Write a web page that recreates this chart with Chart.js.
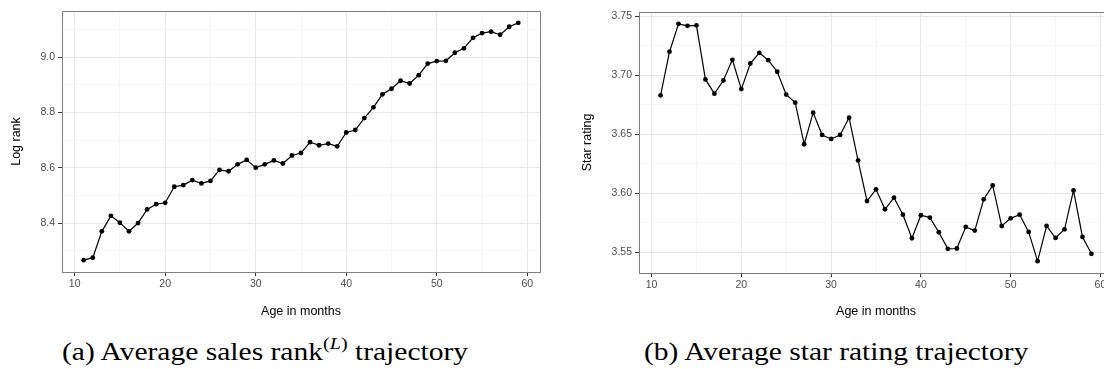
<!DOCTYPE html>
<html>
<head>
<meta charset="utf-8">
<script src="https://cdn.jsdelivr.net/npm/chart.js@4"></script>
<style>
html,body{margin:0;padding:0;width:1104px;height:369px;overflow:hidden;background:#fff;}
body{position:relative;}
#c1{position:absolute;left:0;top:0;}
#c2{position:absolute;left:545px;top:0;}
.cap{position:absolute;top:339px;font-family:"Liberation Serif",serif;font-size:25px;line-height:25px;white-space:nowrap;transform-origin:0 0;color:#000;}
.sup{font-size:0.68em;position:relative;top:-0.62em;}
</style>
</head>
<body>
<canvas id="c1" width="545" height="330"></canvas>
<canvas id="c2" width="575" height="330"></canvas>
<div class="cap" id="capA" style="left:62px;"><span id="capAm">(a) Average sales rank</span><span class="sup">(<i>L</i>)</span> trajectory</div>
<div class="cap" id="capB" style="left:644px;"><span id="capBm">(b) Average star rating</span> trajectory</div>
<script>
// ---- data ----
const months = [11,12,13,14,15,16,17,18,19,20,21,22,23,24,25,26,27,28,29,30,31,32,33,34,35,36,37,38,39,40,41,42,43,44,45,46,47,48,49,50,51,52,53,54,55,56,57,58,59];
const logRank = [8.267,8.276,8.371,8.427,8.402,8.371,8.401,8.450,8.469,8.474,8.532,8.538,8.556,8.544,8.553,8.593,8.588,8.613,8.629,8.601,8.613,8.627,8.616,8.645,8.654,8.693,8.682,8.688,8.678,8.728,8.737,8.780,8.819,8.866,8.886,8.915,8.905,8.935,8.977,8.986,8.987,9.016,9.032,9.070,9.087,9.092,9.081,9.110,9.124];
const starRating = [3.683,3.720,3.7436,3.7419,3.7424,3.6965,3.6844,3.6956,3.7131,3.6883,3.710,3.719,3.7128,3.703,3.6836,3.6768,3.6415,3.6683,3.6494,3.646,3.6494,3.664,3.6278,3.5934,3.6033,3.5864,3.5962,3.5818,3.5618,3.5813,3.5793,3.5669,3.5528,3.5531,3.5714,3.5683,3.5948,3.6066,3.5722,3.5787,3.5818,3.5672,3.5424,3.5722,3.5621,3.5694,3.6024,3.5629,3.5486];
const xMajorTicks = [10,20,30,40,50,60];
const xMinorTicks = [15,25,35,45,55];
const leftYMajorTicks = [8.4,8.6,8.8,9.0];
const leftYMinorTicks = [8.3,8.5,8.7,8.9,9.1];
const rightYMajorTicks = [3.55,3.60,3.65,3.70,3.75];
const rightYMinorTicks = [3.575,3.625,3.675,3.725];
const xTitle = "Age in months";
const leftYTitle = "Log rank";
const rightYTitle = "Star rating";

// ---- helpers ----
function expand(vals){ const mn=Math.min(...vals), mx=Math.max(...vals), d=(mx-mn)*0.05; return [mn-d,mx+d]; }
function isIn(arr,v){ return arr.some(a=>Math.abs(a-v)<1e-9); }
const tickFont = {family:"'Liberation Sans', Arial, sans-serif", size:10.5};
const titleFont = {family:"'Liberation Sans', Arial, sans-serif", size:12.5};

const borderPlugin = {
  id:'panelBorder',
  afterDraw(chart){
    const {ctx, chartArea:a} = chart;
    ctx.save();
    ctx.strokeStyle = '#7f7f7f';
    ctx.lineWidth = 1;
    ctx.strokeRect(Math.round(a.left)+0.5, Math.round(a.top)+0.5, Math.round(a.right-a.left), Math.round(a.bottom-a.top));
    ctx.restore();
  }
};

function makeChart(id, yVals, yMajor, yMinor, yDigits, yTitle, opts){
  const [xmin,xmax] = expand(months);
  const [ymin,ymax] = expand(yVals);
  const xAll = [...xMajorTicks, ...xMinorTicks].sort((a,b)=>a-b);
  const yAll = [...yMajor, ...yMinor].sort((a,b)=>a-b);
  return new Chart(document.getElementById(id), {
    type:'line',
    data:{ datasets:[{
      data: months.map((m,i)=>({x:m, y:yVals[i]})),
      borderColor:'#000', borderWidth:1.2,
      pointRadius:2.4, pointBackgroundColor:'#000', pointBorderWidth:0,
      tension:0
    }]},
    options:{
      responsive:false, animation:false,
      layout:{padding:opts.padding},
      plugins:{legend:{display:false}, tooltip:{enabled:false}},
      scales:{
        x:{
          type:'linear', min:xmin, max:xmax,
          afterBuildTicks(s){ s.ticks = xAll.map(v=>({value:v})); },
          afterFit(s){ s.height = opts.xHeight; },
          ticks:{ autoSkip:false, maxRotation:0, color:'#4d4d4d', font:tickFont, padding:2,
            callback:(v)=> isIn(xMajorTicks,v) ? String(v) : '' },
          grid:{ color:(c)=> isIn(xMajorTicks,c.tick.value) ? '#e8e8e8' : '#f5f5f5',
                 tickColor:(c)=> isIn(xMajorTicks,c.tick.value) ? '#333' : 'rgba(0,0,0,0)',
                 tickLength:4, lineWidth:1 },
          border:{display:false},
          title:{display:true, text:xTitle, color:'#000', font:titleFont, padding:{top:0,bottom:11}}
        },
        y:{
          type:'linear', min:ymin, max:ymax,
          afterBuildTicks(s){ s.ticks = yAll.map(v=>({value:v})); },
          afterFit(s){ s.width = opts.yWidth; },
          ticks:{ autoSkip:false, color:'#4d4d4d', font:tickFont, padding:3,
            callback:(v)=> isIn(yMajor,v) ? v.toFixed(yDigits) : '' },
          grid:{ color:(c)=> isIn(yMajor,c.tick.value) ? '#e8e8e8' : '#f5f5f5',
                 tickColor:(c)=> isIn(yMajor,c.tick.value) ? '#333' : 'rgba(0,0,0,0)',
                 tickLength:4, lineWidth:1 },
          border:{display:false},
          title:{display:true, text:yTitle, color:'#000', font:titleFont, padding:{top:opts.yTitlePad,bottom:0}}
        }
      }
    },
    plugins:[borderPlugin]
  });
}

makeChart('c1', logRank, leftYMajorTicks, leftYMinorTicks, 1, leftYTitle,
  {padding:{left:0,right:5,top:11,bottom:0}, xHeight:58, yWidth:62, yTitlePad:9});
makeChart('c2', starRating, rightYMajorTicks, rightYMinorTicks, 2, rightYTitle,
  {padding:{left:0,right:7,top:12,bottom:0}, xHeight:57, yWidth:94, yTitlePad:35});

// fit caption widths to the reference
function fitCap(capId, measId, target){
  const cap = document.getElementById(capId), m = document.getElementById(measId);
  const w = m.getBoundingClientRect().width;
  cap.style.transform = 'scaleX(' + (target / w) + ')';
}
fitCap('capA','capAm',261);
fitCap('capB','capBm',264);
</script>
</body>
</html>
